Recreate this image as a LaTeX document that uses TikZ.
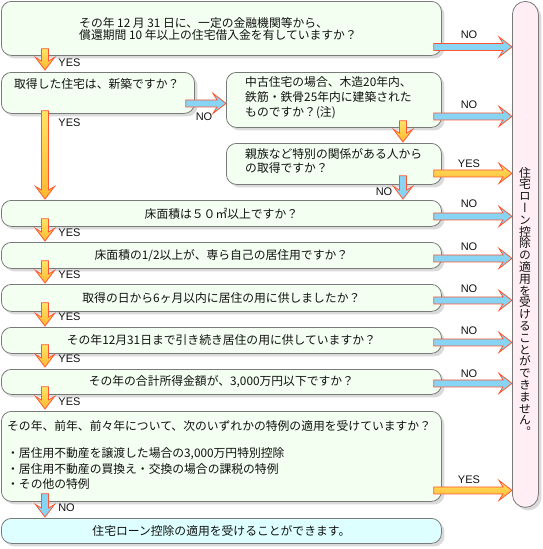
\documentclass[tikz,border=0pt]{standalone}
\usepackage{fontspec}
\setmainfont{Noto Sans CJK JP}
\newfontfamily\labfont{Liberation Sans}
\newfontfamily\vertfont{Noto Sans CJK JP}[RawFeature=+vert]
\usetikzlibrary{calc,shadows}
\definecolor{boxfill}{HTML}{F3FFF1}
\definecolor{cyanfill}{HTML}{DDFFFF}
\definecolor{pinkfill}{HTML}{FFEEF3}
\definecolor{boxline}{HTML}{7A7A7A}
\definecolor{shadowc}{HTML}{DADADA}
\definecolor{noblue}{HTML}{88D4F4}
\definecolor{arrred}{HTML}{FF5533}
\definecolor{yeslight}{HTML}{FFE466}
\definecolor{yesdark}{HTML}{FFB830}
\definecolor{textc}{HTML}{111111}
\begin{document}
\begin{tikzpicture}[x=1pt,y=-1pt,
  box/.style={draw=boxline, line width=0.8pt, rounded corners=10pt, fill=boxfill,
    anchor=north west, inner sep=0pt,
    drop shadow={shadow xshift=3pt, shadow yshift=-3pt, fill=shadowc, opacity=1}},
  txt/.style={inner sep=0pt, font=\fontsize{11.8}{15}\selectfont, text=textc, align=left},
  lab/.style={inner sep=0pt, font=\labfont\fontsize{11}{13}\selectfont, text=textc},
  yesarr/.style={draw=arrred, line width=0.8pt, top color=yeslight, bottom color=yesdark},
  noarr/.style={draw=arrred, line width=0.8pt, fill=noblue},
  rarr/.style={to path={let \p1=(\tikztostart), \p2=(\tikztotarget) in
    (\x1,\y1+3.5pt) -- (\x2-9pt,\y1+3.5pt) -- (\x2-13pt,\y1+10pt) -- (\x2,\y1)
    -- (\x2-13pt,\y1-10pt) -- (\x2-9pt,\y1-3.5pt) -- (\x1,\y1-3.5pt) -- cycle}},
  darr/.style={to path={let \p1=(\tikztostart), \p2=(\tikztotarget) in
    (\x1-3.5pt,\y1) -- (\x1-3.5pt,\y2+9pt) -- (\x1-9.5pt,\y2+12.5pt) -- (\x1,\y2)
    -- (\x1+9.5pt,\y2+12.5pt) -- (\x1+3.5pt,\y2+9pt) -- (\x1+3.5pt,\y1) -- cycle}},
]
\useasboundingbox (0,0) rectangle (542,549);

% boxes
\node[box, minimum width=440pt, minimum height=54pt] (b1) at (1,1) {};
\node[box, minimum width=193pt, minimum height=41pt] (b2) at (1,72) {};
\node[box, minimum width=215pt, minimum height=55pt] (b3) at (226,72) {};
\node[box, minimum width=215pt, minimum height=41pt] (b4) at (226,143) {};
\node[box, minimum width=440pt, minimum height=26pt] (b5) at (1,200) {};
\node[box, minimum width=440pt, minimum height=26pt] (b6) at (1,242) {};
\node[box, minimum width=440pt, minimum height=27pt] (b7) at (1,284) {};
\node[box, minimum width=440pt, minimum height=26pt] (b8) at (1,327) {};
\node[box, minimum width=440pt, minimum height=25pt] (b9) at (1,369) {};
\node[box, minimum width=440pt, minimum height=90pt] (b10) at (1,411) {};
\node[box, fill=cyanfill, minimum width=440pt, minimum height=25pt] (b11) at (1,518) {};
\node[box, fill=pinkfill, rounded corners=13pt, minimum width=26pt, minimum height=506pt] (rt) at (512,1) {};

% texts
\node[txt, anchor=west, font=\fontsize{11.8}{12}\selectfont] (t1) at (79,29)
  {その年 12 月 31 日に、一定の金融機関等から、\\償還期間 10 年以上の住宅借入金を有していますか？};
\node[txt, anchor=west] (t2) at (14,84) {取得した住宅は、新築ですか？};
\node[txt, anchor=west] (t3) at (245,98)
  {中古住宅の場合、木造20年内、\\鉄筋・鉄骨25年内に建築された\\ものですか？(注)};
\node[txt, anchor=west, font=\fontsize{11.8}{14}\selectfont] (t4) at (245,161)
  {親族など特別の関係がある人から\\の取得ですか？};
\node[txt] (t5) at (b5.center) {床面積は５０㎡以上ですか？};
\node[txt] (t6) at (b6.center) {床面積の1/2以上が、専ら自己の居住用ですか？};
\node[txt] (t7) at (b7.center) {取得の日から6ヶ月以内に居住の用に供しましたか？};
\node[txt] (t8) at (b8.center) {その年12月31日まで引き続き居住の用に供していますか？};
\node[txt] (t9) at (b9.center) {その年の合計所得金額が、3,000万円以下ですか？};
\node[txt, anchor=west, font=\fontsize{11.8}{15.5}\selectfont] (t10) at (7,455)
  {その年、前年、前々年について、次のいずれかの特例の適用を受けていますか？\\[11.5pt]
   ・居住用不動産を譲渡した場合の3,000万円特別控除\\
   ・居住用不動産の買換え・交換の場合の課税の特例\\
   ・その他の特例};
\node[txt] (t11) at (b11.center) {住宅ローン控除の適用を受けることができます。};
\node[txt, align=center, font=\vertfont\fontsize{11.8}{11.8}\selectfont] (vt) at (525,302)
  {住\\宅\\ロ\\ー\\ン\\控\\除\\の\\適\\用\\を\\受\\け\\る\\こ\\と\\が\\で\\き\\ま\\せ\\ん\\。};

% right arrows
\draw[noarr, rarr] ([shift={(-8,18.5)}]b1.east) to (rt.west);
\draw[noarr, rarr] ([shift={(-8,16.5)}]b3.east) to (rt.west);
\draw[yesarr, rarr] ([shift={(-8,9.5)}]b4.east) to (rt.west);
\draw[noarr, rarr] ([shift={(-8,3)}]b5.east) to (rt.west);
\draw[noarr, rarr] ([shift={(-8,3)}]b6.east) to (rt.west);
\draw[noarr, rarr] ([shift={(-8,2.5)}]b7.east) to (rt.west);
\draw[noarr, rarr] ([shift={(-8,2)}]b8.east) to (rt.west);
\draw[noarr, rarr] ([shift={(-8,1.5)}]b9.east) to (rt.west);
\draw[yesarr, rarr] ([shift={(-8,34)}]b10.east) to (rt.west);
\draw[noarr, rarr] ([shift={(-9,10.5)}]b2.east) to (b3.west);

% down arrows
\draw[yesarr, darr] ([shift={(44,-7)}]b1.south west) to ([shift={(0,-2)}]b2.north);
\draw[yesarr, darr] ([shift={(44,-3)}]b2.south west) to ([shift={(0,-1)}]b5.north);
\draw[yesarr, darr] ([shift={(44,-8)}]b5.south west) to ([shift={(0,-1)}]b6.north);
\draw[yesarr, darr] ([shift={(44,-8)}]b6.south west) to ([shift={(0,-1)}]b7.north);
\draw[yesarr, darr] ([shift={(44,-9)}]b7.south west) to ([shift={(0,-1)}]b8.north);
\draw[yesarr, darr] ([shift={(44,-9)}]b8.south west) to ([shift={(0,-2)}]b9.north);
\draw[yesarr, darr] ([shift={(44,-8)}]b9.south west) to ([shift={(0,-2)}]b10.north);
\draw[noarr, darr] ([shift={(44,-8)}]b10.south west) to ([shift={(0,-1)}]b11.north);
\draw[yesarr, darr] ([shift={(177,-7)}]b3.south west) to ([shift={(0,-1)}]b4.north);
\draw[noarr, darr] ([shift={(177,-9)}]b4.south west) to ([shift={(0,-1)}]b5.north);

% labels
\node[lab] (l1) at (469,35) {NO};
\node[lab] (l2) at (469,105) {NO};
\node[lab] (l3) at (469,164) {YES};
\node[lab] (l4) at (469,204) {NO};
\node[lab] (l5) at (469,247) {NO};
\node[lab] (l6) at (469,289) {NO};
\node[lab] (l7) at (469,331) {NO};
\node[lab] (l8) at (469,374) {NO};
\node[lab] (l9) at (469,480) {YES};
\node[lab] (l10) at (204,117) {NO};
\node[lab] (l11) at (384,192) {NO};
\node[lab] (y1) at (69.5,63) {YES};
\node[lab] (y2) at (69.5,123) {YES};
\node[lab] (y3) at (69.5,233) {YES};
\node[lab] (y4) at (69.5,275) {YES};
\node[lab] (y5) at (69.5,317) {YES};
\node[lab] (y6) at (69.5,359) {YES};
\node[lab] (y7) at (69.5,402) {YES};
\node[lab] (y8) at (66.5,508) {NO};
\end{tikzpicture}
\end{document}
